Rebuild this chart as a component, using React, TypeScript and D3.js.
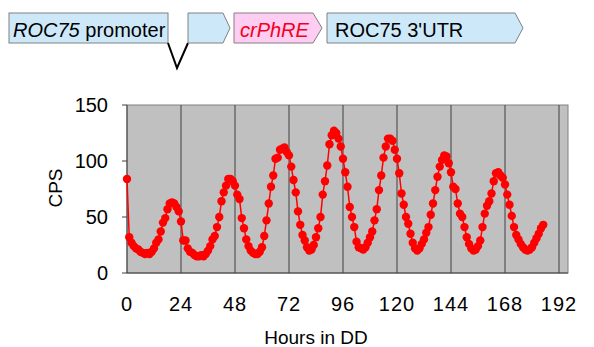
import React from "react";
import * as d3 from "d3";

// luminescence counts (CPS), one reading per hour in constant darkness
const cps = [
  84, 32, 27, 24, 22, 21, 19, 18, 17, 18, 17, 19, 22, 27, 30, 37, 45, 49, 57, 62, 63, 62, 59, 55,
  46, 29, 29, 22, 19, 18, 16, 15, 15, 16, 15, 17, 20, 24, 30, 33, 41, 50, 64, 72, 78, 84, 84, 82,
  78, 70, 66, 49, 40, 30, 24, 20, 18, 17, 17, 19, 23, 33, 47, 62, 77, 87, 102, 103, 110, 111, 112, 108,
  105, 95, 83, 72, 55, 43, 34, 29, 23, 20, 21, 25, 32, 40, 50, 70, 82, 96, 115, 123, 127, 125, 120, 113,
  102, 90, 77, 59, 50, 41, 28, 23, 22, 21, 23, 27, 32, 37, 47, 57, 74, 87, 103, 113, 120, 120, 118, 110,
  102, 89, 71, 61, 50, 44, 35, 27, 22, 20, 22, 26, 30, 36, 41, 52, 62, 74, 86, 95, 101, 105, 104, 98,
  90, 77, 75, 62, 53, 50, 41, 32, 26, 22, 20, 21, 24, 29, 41, 53, 60, 64, 71, 82, 89, 90, 87, 85,
  79, 70, 61, 51, 41, 34, 30, 26, 23, 21, 20, 21, 23, 27, 31, 35, 40, 43,
];
const sampleStepHours = 1;

const xTicks = [0, 24, 48, 72, 96, 120, 144, 168, 192];
const yTicks = [0, 50, 100, 150];

// construct diagram labels
const parts = [
  { italic: "ROC75", plain: " promoter", fill: "#cde9f9", color: "#000" },
  { italic: "crPhRE", plain: "", fill: "#ffccf2", color: "#f0001c" },
  { italic: "", plain: "ROC75 3'UTR", fill: "#cde9f9", color: "#000" },
];

const W = 594;
const H = 347;
const left = 127;
const right = 568;
const top = 105;
const bottom = 273;
const font = "'Liberation Sans', Arial, sans-serif";

export default function App() {
  const points = cps.map((v, i) => ({ t: i * sampleStepHours, v }));
  const x = d3.scaleLinear().domain([0, 196]).range([left, right]);
  const y = d3.scaleLinear().domain([0, 150]).range([bottom, top]);
  const line = d3
    .line<{ t: number; v: number }>()
    .x((d) => x(d.t))
    .y((d) => y(d.v));

  const bt = 13;
  const bb = 43;
  const mid = (bt + bb) / 2;

  return (
    <svg
      width={W}
      height={H}
      style={{ position: "absolute", left: 0, top: 0, background: "#fff" }}
      fontFamily={font}
    >
      {/* construct */}
      <rect x={9} y={bt} width={159} height={bb - bt} fill={parts[0].fill} stroke="#808080" />
      <text x={13} y={37} fontSize={20} fill={parts[0].color}>
        <tspan fontStyle="italic">{parts[0].italic}</tspan>
        {parts[0].plain}
      </text>
      <polyline points={`168,${bb} 177,68 188,${bb}`} fill="none" stroke="#000" strokeWidth={2} />
      <path d={`M188,${bt}H223L230,${mid}L223,${bb}H188Z`} fill="#cde9f9" stroke="#808080" />
      <path d={`M234,${bt}H313L322,${mid}L313,${bb}H234Z`} fill={parts[1].fill} stroke="#808080" />
      <text x={240} y={37} fontSize={20} fill={parts[1].color} fontStyle="italic">
        {parts[1].italic}
      </text>
      <path d={`M327,${bt}H515L523,${mid}L515,${bb}H327Z`} fill={parts[2].fill} stroke="#808080" />
      <text x={335} y={37} fontSize={20} fill={parts[2].color}>
        {parts[2].plain}
      </text>

      {/* plot area */}
      <rect x={left} y={top} width={right - left} height={bottom - top} fill="#c0c0c0" stroke="#808080" />
      {xTicks.slice(1).map((t) => (
        <line key={t} x1={x(t)} x2={x(t)} y1={top} y2={bottom} stroke="#404040" strokeWidth={1} />
      ))}
      <line x1={left} x2={left} y1={top} y2={bottom} stroke="#404040" />
      <line x1={left} x2={right} y1={bottom} y2={bottom} stroke="#404040" />
      {yTicks.map((v) => (
        <g key={v}>
          <line x1={left - 5} x2={left} y1={y(v)} y2={y(v)} stroke="#404040" />
          <text x={108} y={y(v)} textAnchor="end" dominantBaseline="central" fontSize={20} fill="#000">
            {v}
          </text>
        </g>
      ))}
      {xTicks.map((t) => (
        <text key={t} x={x(t)} y={311} textAnchor="middle" fontSize={20} letterSpacing={1} fill="#000">
          {t}
        </text>
      ))}
      <text x={316} y={344} textAnchor="middle" fontSize={19} fill="#000">
        Hours in DD
      </text>
      <text transform="translate(62,188) rotate(-90)" textAnchor="middle" fontSize={19} fill="#000">
        CPS
      </text>

      {/* series */}
      <path d={line(points) ?? ""} fill="none" stroke="#ff0000" strokeWidth={1.5} />
      {points.map((d) => (
        <circle key={d.t} cx={x(d.t)} cy={y(d.v)} r={4.2} fill="#ff0000" />
      ))}
    </svg>
  );
}
